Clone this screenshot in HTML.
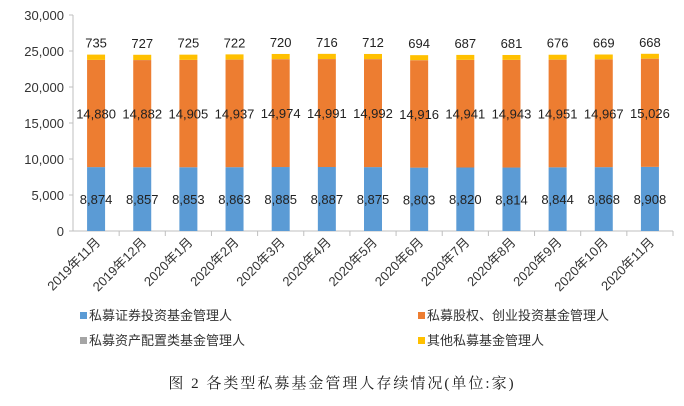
<!DOCTYPE html>
<html><head><meta charset="utf-8"><style>
body{margin:0;background:#fff;width:684px;height:406px;overflow:hidden;font-family:"Liberation Sans","Noto Sans CJK SC",sans-serif}
.cap{position:absolute;left:0;width:684px;top:372px;text-align:center;font-family:"Liberation Serif","Noto Serif CJK SC",serif;font-size:15px;letter-spacing:2px;color:#222}
</style></head><body>
<svg id="chart" width="684" height="406" style="position:absolute;left:0;top:0"></svg>
<div class="cap">图 2 各类型私募基金管理人存续情况(单位:家)</div>
<script>
const categories=["2019年11月","2019年12月","2020年1月","2020年2月","2020年3月","2020年4月","2020年5月","2020年6月","2020年7月","2020年8月","2020年9月","2020年10月","2020年11月"];
const securities=[8874,8857,8853,8863,8885,8887,8875,8803,8820,8814,8844,8868,8908];
const equity=[14880,14882,14905,14937,14974,14991,14992,14916,14941,14943,14951,14967,15026];
const allocation=[9,9,9,9,9,9,9,9,9,9,9,9,9];
const other=[735,727,725,722,720,716,712,694,687,681,676,669,668];
const yTicks=[0,5000,10000,15000,20000,25000,30000];
const seriesNames=["私募证券投资基金管理人","私募股权、创业投资基金管理人","私募资产配置类基金管理人","其他私募基金管理人"];
const colors=["#5B9BD5","#ED7D31","#A5A5A5","#FFC000"];
const svg=document.getElementById('chart');const NS="http://www.w3.org/2000/svg";
const X0=73,X1=673,Y0=231,Y1=15,YMAX=30000;
const y=v=>Y0-(v/YMAX)*(Y0-Y1);
const cw=(X1-X0)/categories.length;
const xc=i=>X0+cw*(i+0.5);
function mk(t,a){const e=document.createElementNS(NS,t);for(const k in a)e.setAttribute(k,a[k]);svg.appendChild(e);return e;}
const fmt=v=>v.toLocaleString('en-US');
yTicks.forEach(t=>{
 const tl=mk('line',{x1:X0-4,x2:X0,y1:y(t),y2:y(t),stroke:'#bfbfbf'});
 
 
 const tx=mk('text',{x:X0-9,y:y(t)+5,'text-anchor':'end','font-size':13,fill:'#333'});tx.textContent=fmt(t);
 
 
});
const ya=mk('line',{x1:X0,x2:X0,y1:Y1,y2:Y0,stroke:'#bfbfbf'});


const xa=mk('line',{x1:X0,x2:X1,y1:Y0,y2:Y0,stroke:'#bfbfbf'});


const series=[securities,equity,allocation,other];
categories.forEach((c,i)=>{
 const tk=mk('line',{x1:X0+cw*(i+1),x2:X0+cw*(i+1),y1:Y0,y2:Y0+5,stroke:'#bfbfbf'});
 
 
 let base=0;
 series.forEach((s,k)=>{
  const r=mk('rect',{x:xc(i)-9,width:18,y:y(base+s[i]),height:y(base)-y(base+s[i]),fill:colors[k]});
  
  
  base+=s[i];
 });
 const lbl=(txt,yy)=>{const t=mk('text',{x:xc(i),y:yy,'text-anchor':'middle','font-size':13,fill:'#222'});t.textContent=txt;
  
  };
 lbl(fmt(securities[i]),y(securities[i]/2)+5);
 lbl(fmt(equity[i]),y(securities[i]+equity[i]/2)+5);
 lbl(fmt(other[i]),y(base)-7);
 const xl=mk('text',{x:0,y:0,'text-anchor':'end','font-size':13,fill:'#333',transform:`translate(${xc(i)+5},${Y0+12}) rotate(-45)`});
 xl.textContent=c;
 
 
});
const lg=[[80,320],[418,320],[80,345],[418,345]];
seriesNames.forEach((n,k)=>{
 const r=mk('rect',{x:lg[k][0],y:lg[k][1]-8,width:7,height:7,fill:colors[k]});
 
 
 const t=mk('text',{x:lg[k][0]+9,y:lg[k][1],'font-size':13,fill:'#333'});t.textContent=n;
 
 
});
</script>
</body></html>
